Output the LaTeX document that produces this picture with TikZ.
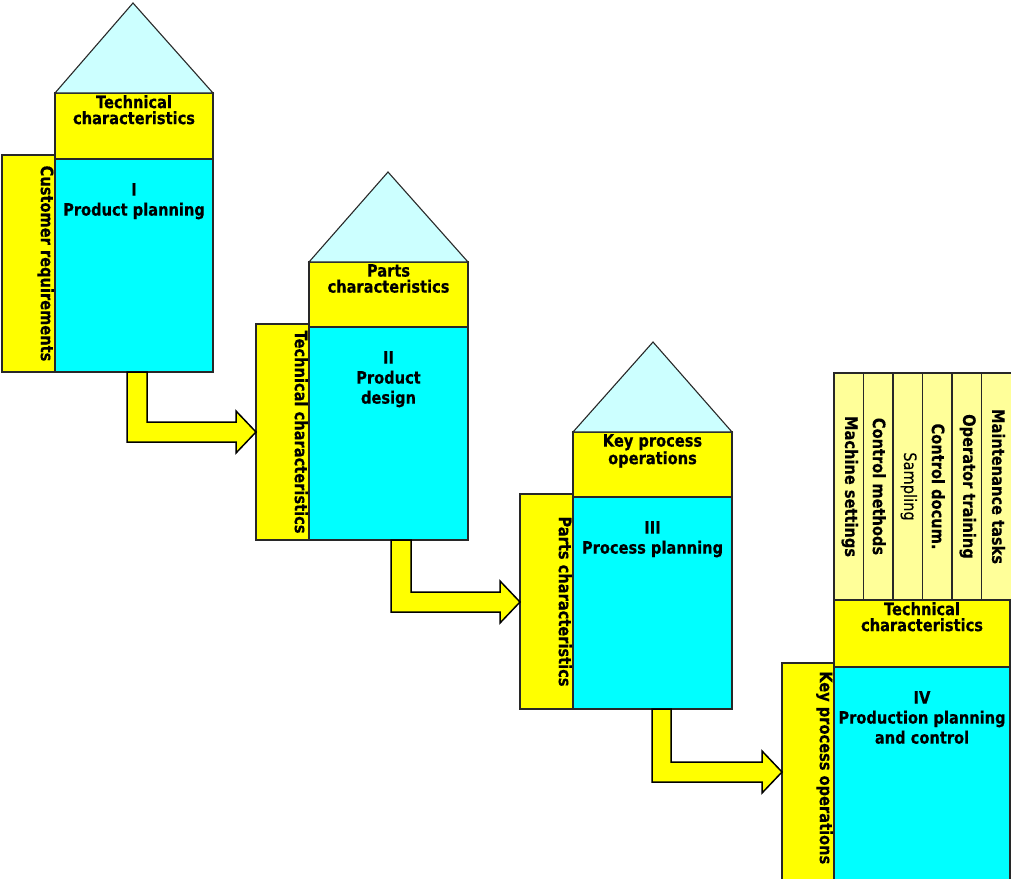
\documentclass[tikz,border=0pt]{standalone}
\usepackage{fontspec}
\setmainfont{DejaVu Sans}[FakeStretch=0.86, UprightFeatures={FakeBold=0.25}, BoldFeatures={FakeBold=0.4}]
\usetikzlibrary{calc}
\definecolor{qcyan}{RGB}{0,255,255}
\definecolor{qyellow}{RGB}{255,255,0}
\definecolor{qroof}{RGB}{204,255,255}
\definecolor{qpale}{RGB}{255,255,153}
\definecolor{edge}{RGB}{40,40,40}
\begin{document}
\begin{tikzpicture}[x=1pt,y=-1pt,
  box/.style={draw=edge, line width=1.1pt, inner sep=0pt, outer sep=0pt, anchor=north west},
  mainbox/.style={box, fill=qcyan},
  hatbox/.style={box, fill=qyellow},
  sidebox/.style={box, fill=qyellow},
  colbox/.style={box, fill=qpale},
  roof/.style={draw=edge, line width=1.1pt, fill=qroof, line join=miter},
  flow/.style={draw=black, line width=1.5pt, fill=qyellow, line join=miter},
  toptext/.style={font=\fontsize{17}{16}\selectfont\bfseries, align=center, inner sep=0pt},
  maintext/.style={font=\fontsize{17}{20}\selectfont\bfseries, align=center, inner sep=0pt},
  sidetext/.style={font=\fontsize{17}{20}\selectfont\bfseries, rotate=-90, inner sep=0pt},
]
\useasboundingbox (0,0) rectangle (1011,878);
\clip (0,0) rectangle (1011,878);

% ---------- I  Product planning ----------
\node[sidebox, minimum width=53, minimum height=217] (s1) at (2,155) {};
\node[hatbox, minimum width=158, minimum height=66] (h1) at (55,93) {};
\node[mainbox, minimum width=158, minimum height=213] (p1) at (55,159) {};
\coordinate (apex1) at (133,3);
\draw[roof] (h1.north west) -- (apex1) -- (h1.north east) -- cycle;
\node[toptext, anchor=north] (h1t) at ([yshift=-2pt]h1.north) {Technical\\characteristics};
\node[maintext, anchor=north] (p1t) at ([yshift=-24pt]p1.north) {I\\Product planning};
\node[sidetext, anchor=north] (s1t) at ([xshift=-1pt]s1.east) {Customer requirements};

% ---------- II  Product design ----------
\node[sidebox, minimum width=53, minimum height=216] (s2) at (256,324) {};
\node[hatbox, minimum width=159, minimum height=65] (h2) at (309,262) {};
\node[mainbox, minimum width=159, minimum height=213] (p2) at (309,327) {};
\coordinate (apex2) at (388,172);
\draw[roof] (h2.north west) -- (apex2) -- (h2.north east) -- cycle;
\node[toptext, anchor=north] (h2t) at ([yshift=-2pt]h2.north) {Parts\\characteristics};
\node[maintext, anchor=north] (p2t) at ([yshift=-24pt]p2.north) {II\\Product\\design};
\node[sidetext, anchor=north] (s2t) at ([xshift=-1pt]s2.east) {Technical characteristics};

% ---------- III  Process planning ----------
\node[sidebox, minimum width=53, minimum height=215] (s3) at (520,494) {};
\node[hatbox, minimum width=159, minimum height=65] (h3) at (573,432) {};
\node[mainbox, minimum width=159, minimum height=212] (p3) at (573,497) {};
\coordinate (apex3) at (653,342);
\draw[roof] (h3.north west) -- (apex3) -- (h3.north east) -- cycle;
\node[toptext, anchor=north] (h3t) at ([yshift=-2pt]h3.north) {Key process\\operations};
\node[maintext, anchor=north] (p3t) at ([yshift=-24pt]p3.north) {III\\Process planning};
\node[sidetext, anchor=north] (s3t) at ([xshift=-1pt]s3.east) {Parts characteristics};

% ---------- IV  Production planning and control ----------
\node[sidebox, minimum width=52, minimum height=240] (s4) at (782,663) {};
\node[hatbox, minimum width=176, minimum height=67] (h4) at (834,600) {};
\node[mainbox, minimum width=176, minimum height=240] (p4) at (834,667) {};
\node[toptext, anchor=north] (h4t) at ([yshift=-2pt]h4.north) {Technical\\characteristics};
\node[maintext, anchor=north] (p4t) at ([yshift=-24pt]p4.north) {IV\\Production planning\\and control};
\node[sidetext, anchor=north west] (s4t) at ([xshift=-1pt,yshift=-8pt]s4.north east) {Key process operations};

% matrix columns above block IV
\node[colbox, minimum width=29.5, minimum height=227] (c1) at (834,373) {};
\node[colbox, minimum width=29.5, minimum height=227] (c2) at (863.5,373) {};
\node[colbox, minimum width=29.5, minimum height=227] (c3) at (893,373) {};
\node[colbox, minimum width=29.5, minimum height=227] (c4) at (922.5,373) {};
\node[colbox, minimum width=29.5, minimum height=227] (c5) at (952,373) {};
\node[colbox, minimum width=32, minimum height=227] (c6) at (981.5,373) {};
\node[sidetext] (c1t) at ([xshift=1pt]c1.center) {Machine settings};
\node[sidetext] (c2t) at ([xshift=1pt]c2.center) {Control methods};
\node[sidetext, font=\fontsize{17}{20}\selectfont\mdseries] (c3t) at ([xshift=1pt]c3.center) {Sampling};
\node[sidetext] (c4t) at ([xshift=1pt]c4.center) {Control docum.};
\node[sidetext] (c5t) at ([xshift=1pt]c5.center) {Operator training};
\node[sidetext] (c6t) at ([xshift=1pt]c6.center |- c5.center) {Maintenance tasks};

% ---------- flow arrows between the stages ----------
\coordinate (tip1) at (s2.north west |- 0,432);
\coordinate (tip2) at (s3.north west |- 0,602);
\coordinate (tip3) at (s4.north west |- 0,772);
\coordinate (a1) at ([xshift=72pt]p1.south west);
\coordinate (a2) at ([xshift=82pt]p2.south west);
\coordinate (a3) at ([xshift=79pt]p3.south west);
\draw[flow] (a1) -- ++(20,0) |- ($(tip1)+(-20,-10)$) -- ++(0,-11) -- (tip1)
  -- ++(-20,21) -- ++(0,-11) -| (a1) -- cycle;
\draw[flow] (a2) -- ++(20,0) |- ($(tip2)+(-20,-10)$) -- ++(0,-11) -- (tip2)
  -- ++(-20,21) -- ++(0,-11) -| (a2) -- cycle;
\draw[flow] (a3) -- ++(19,0) |- ($(tip3)+(-20,-10)$) -- ++(0,-11) -- (tip3)
  -- ++(-20,21) -- ++(0,-11) -| (a3) -- cycle;
\end{tikzpicture}
\end{document}
